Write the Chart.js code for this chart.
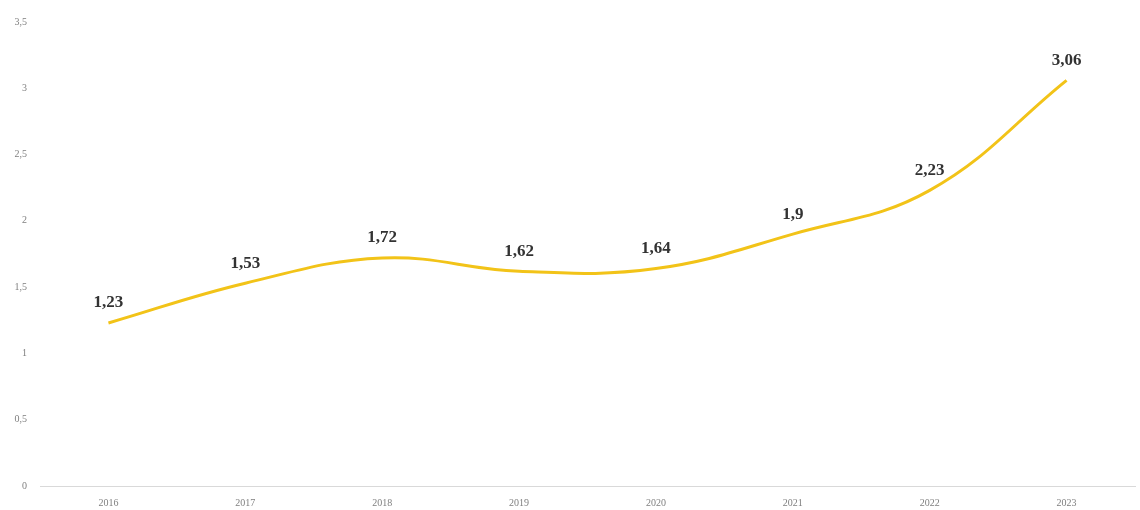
<!DOCTYPE html>
<html>
<head>
<meta charset="utf-8">
<script src="https://cdn.jsdelivr.net/npm/chart.js@4/dist/chart.umd.min.js"></script>
<style>
  html, body { margin: 0; padding: 0; background: #fff; }
  #wrap { width: 1140px; height: 510px; }
</style>
</head>
<body>
<div id="wrap"><canvas id="growthChart"></canvas></div>
<script>
const years = ['2016', '2017', '2018', '2019', '2020', '2021', '2022', '2023'];
const values = [1.23, 1.53, 1.72, 1.62, 1.64, 1.9, 2.23, 3.06];
const yTicks = [0, 0.5, 1, 1.5, 2, 2.5, 3, 3.5];

// comma decimals, as in the labels
function fmt(v) {
    return String(v).replace('.', ',');
}

// draws each value above its point
const valueLabels = {
    id: 'valueLabels',
    afterDatasetsDraw(chart) {
        const ctx = chart.ctx;
        const meta = chart.getDatasetMeta(0);
        ctx.save();
        ctx.font = 'bold 17px "Liberation Serif", serif';
        ctx.fillStyle = '#333333';
        ctx.textAlign = 'center';
        ctx.textBaseline = 'middle';
        meta.data.forEach(function(pt, i) {
            ctx.fillText(fmt(values[i]), pt.x, pt.y - 20);
        });
        ctx.restore();
    }
};

document.addEventListener('DOMContentLoaded', function() {
    const ctx = document.getElementById('growthChart').getContext('2d');
    new Chart(ctx, {
        type: 'line',
        data: {
            labels: years,
            datasets: [{
                data: values,
                borderColor: '#F2C318',
                borderWidth: 3,
                tension: 0.4,
                pointRadius: 0,
                fill: false
            }]
        },
        options: {
            responsive: true,
            maintainAspectRatio: false,
            animation: false,
            layout: { padding: { top: 22, right: 5, bottom: 0, left: 0 } },
            plugins: {
                legend: { display: false },
                tooltip: { enabled: false }
            },
            scales: {
                x: {
                    offset: true,
                    afterFit: function(scale) { scale.height = 24; },
                    grid: { display: false, drawTicks: false },
                    border: { display: true, color: '#d9d9d9', width: 1 },
                    ticks: {
                        color: '#7f7f7f',
                        padding: 11,
                        font: { family: '"Liberation Serif", serif', size: 10 }
                    }
                },
                y: {
                    min: 0,
                    max: 3.5,
                    afterFit: function(scale) { scale.width = 40; },
                    afterBuildTicks: function(scale) {
                        scale.ticks = yTicks.map(function(v) { return { value: v }; });
                    },
                    grid: { display: false, drawTicks: false },
                    border: { display: false },
                    ticks: {
                        color: '#7f7f7f',
                        padding: 13,
                        font: { family: '"Liberation Serif", serif', size: 10 },
                        callback: function(v) { return fmt(v); }
                    }
                }
            }
        },
        plugins: [valueLabels]
    });
});
</script>
</body>
</html>
